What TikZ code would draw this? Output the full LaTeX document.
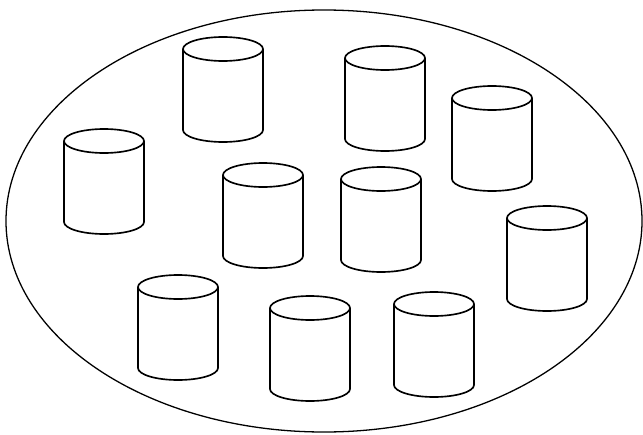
\documentclass[tikz,border=0pt]{standalone}
\usepackage{tikz}

\tikzset{
    rim/.style={draw=black, line width=1.1pt},
    drumline/.style={draw=black, line width=1.4pt, line join=round},
    drum/.pic={
        \draw [drumline] (-40,0) -- (-40,-81)
            arc[start angle=180, end angle=360, x radius=40, y radius=12] -- (40,0);
        \draw [drumline] (0,0) ellipse[x radius=40, y radius=12];
    }
}

\begin{document}
\begin{tikzpicture}[x=0.03cm, y=0.03cm]
\useasboundingbox (0,0) rectangle (643,434);

% outer pool
\draw [rim] (324,213) ellipse[x radius=318, y radius=211];

% the ten drums, placed at the centre of their top caps
\foreach \name/\px/\py in {a/223/385, b/385/376, c/492/336, d/104/293, e/263/259,
                           f/381/255, g/547/216, h/178/147, i/310/126, j/434/130}
    \pic (drum\name) at (\px,\py) {drum};
\end{tikzpicture}
\end{document}
